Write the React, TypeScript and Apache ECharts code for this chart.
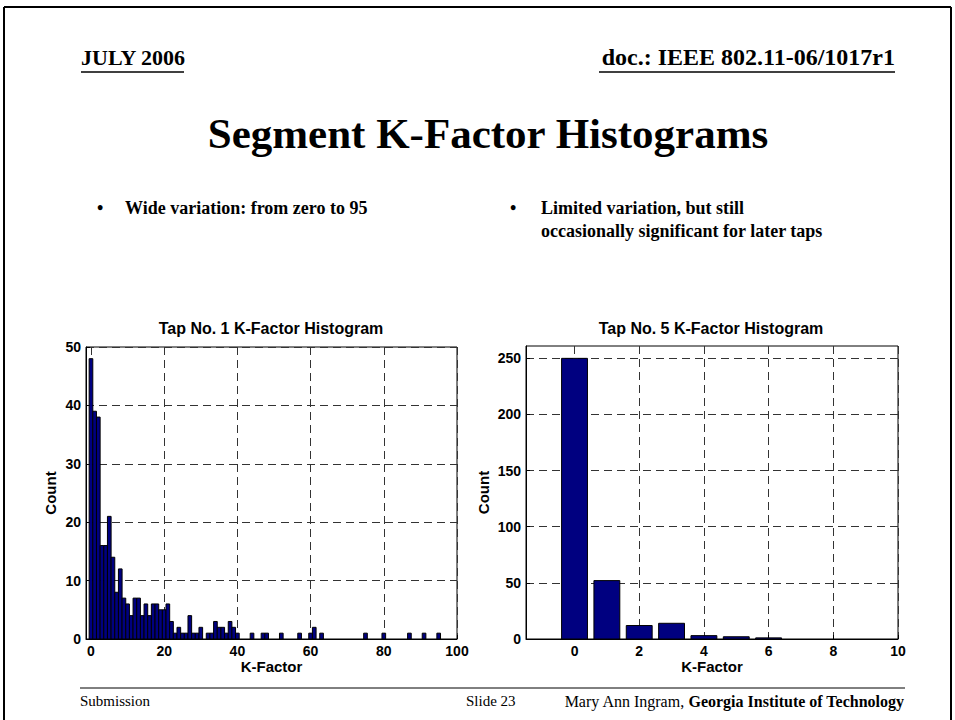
import React, { useEffect, useRef } from 'react';
import * as echarts from 'echarts';

// Tap No. 1 histogram: counts per K-Factor bin (bin k centred on K = k, width 1)
const tap1Counts = [
  48, 39, 38, 16, 16, 21, 14, 8, 12, 7,
  6, 4, 7, 7, 4, 6, 4, 6, 6, 5,
  5, 6, 3, 1, 2, 1, 1, 4, 1, 1,
  2, 0, 1, 1, 3, 2, 2, 1, 3, 2,
  1, 0, 0, 0, 1, 0, 0, 1, 1, 0,
  0, 0, 1, 0, 0, 0, 0, 1, 0, 0,
  1, 2, 0, 1, 0, 0, 0, 0, 0, 0,
  0, 0, 0, 0, 0, 1, 0, 0, 0, 0,
  1, 0, 0, 0, 0, 0, 0, 1, 0, 0,
  0, 1, 0, 0, 0, 1,
];
// Tap No. 5 histogram: counts for K-Factor bins 0..6
const tap5Counts = [250, 52, 12, 14, 3, 2, 1];

const tap1XTicks = [0, 20, 40, 60, 80, 100];
const tap1YTicks = [0, 10, 20, 30, 40, 50];
const tap5XTicks = [0, 2, 4, 6, 8, 10];
const tap5YTicks = [0, 50, 100, 150, 200, 250];

const tap1BinWidth = 1;
const tap5BinWidth = 0.8;

const AXIS_FONT = '"Liberation Sans", Arial, sans-serif';
const SERIF = '"Liberation Serif", "Times New Roman", serif';

function makeAxis(gridIndex: number, min: number, max: number, ticks: number[], name: string, nameGap: number) {
  return {
    type: 'value',
    gridIndex,
    min,
    max,
    name,
    nameLocation: 'middle',
    nameGap,
    nameTextStyle: { color: '#000', fontWeight: 'bold', fontSize: 15, fontFamily: AXIS_FONT },
    axisLine: { show: true, onZero: false, lineStyle: { color: '#000', width: 1 } },
    axisTick: { show: true, inside: true, length: 4, customValues: ticks, lineStyle: { color: '#000' } },
    axisLabel: {
      show: true,
      customValues: ticks,
      color: '#000',
      fontWeight: 'bold',
      fontSize: 14,
      fontFamily: AXIS_FONT,
      margin: 5,
      showMinLabel: true,
      showMaxLabel: true,
    },
    splitLine: { show: true, lineStyle: { color: '#333', width: 1, type: [8, 5] } },
  };
}

function histSeries(counts: number[], width: number, axisIndex: number) {
  return {
    type: 'custom',
    xAxisIndex: axisIndex,
    yAxisIndex: axisIndex,
    data: counts.map((c, i) => [i, c]),
    encode: { x: 0, y: 1 },
    renderItem: (params: any, api: any) => {
      const x = api.value(0);
      const y = api.value(1);
      if (!y) return null;
      const p0 = api.coord([x - width / 2, y]);
      const p1 = api.coord([x + width / 2, 0]);
      return {
        type: 'rect',
        shape: { x: p0[0], y: p0[1], width: p1[0] - p0[0], height: p1[1] - p0[1] },
        style: { fill: '#000080', stroke: '#000', lineWidth: 1 },
      };
    },
  };
}

function txt(text: string, x: number, y: number, font: string, align: string = 'left', extra: any = {}) {
  return {
    type: 'text',
    x,
    y,
    style: { text, font, fill: '#000', align, verticalAlign: 'middle', textAlign: align, textVerticalAlign: 'middle', ...extra },
  };
}

function line(x1: number, y1: number, x2: number, y2: number, w = 1) {
  return { type: 'line', shape: { x1, y1, x2, y2 }, style: { stroke: '#000', lineWidth: w } };
}

export default function App() {
  const ref = useRef<HTMLDivElement>(null);
  useEffect(() => {
    if (!ref.current) return;
    const chart = echarts.init(ref.current, undefined, { renderer: 'svg' });
    chart.setOption({
      animation: false,
      backgroundColor: '#fff',
      grid: [
        { left: 86, top: 347, width: 371, height: 292, show: true, borderColor: '#000', borderWidth: 1, backgroundColor: '#fff' },
        { left: 526, top: 346, width: 372, height: 293, show: true, borderColor: '#000', borderWidth: 1, backgroundColor: '#fff' },
      ],
      xAxis: [
        makeAxis(0, -1.36, 100, tap1XTicks, 'K-Factor', 20),
        makeAxis(1, -1.5, 10, tap5XTicks, 'K-Factor', 20),
      ],
      yAxis: [
        makeAxis(0, 0, 50, tap1YTicks, 'Count', 28),
        makeAxis(1, 0, 261, tap5YTicks, 'Count', 35),
      ],
      series: [histSeries(tap1Counts, tap1BinWidth, 0), histSeries(tap5Counts, tap5BinWidth, 1)],
      graphic: [
        // slide frame
        line(4, 7, 951, 7, 2),
        line(4, 7, 4, 720, 2),
        line(951, 7, 951, 720, 2),
        // header
        txt('JULY 2006', 81, 57, `bold 22px ${SERIF}`, 'left'),
        line(81, 72, 184, 72, 1.5),
        txt('doc.: IEEE 802.11-06/1017r1', 895, 57, `bold 24px ${SERIF}`, 'right'),
        line(599, 72, 895, 72, 1.5),
        // title
        txt('Segment K-Factor Histograms', 488, 133, `bold 43px ${SERIF}`, 'center'),
        // bullets
        txt('•', 97, 208, `bold 18px ${SERIF}`, 'left'),
        txt('Wide variation: from zero to 95', 125, 208, `bold 18px ${SERIF}`, 'left'),
        txt('•', 510, 208, `bold 18px ${SERIF}`, 'left'),
        txt('Limited variation, but still', 541, 208, `bold 18px ${SERIF}`, 'left'),
        txt('occasionally significant for later taps', 541, 231, `bold 18px ${SERIF}`, 'left'),
        // chart titles
        txt('Tap No. 1 K-Factor Histogram', 271, 328, `bold 16px ${AXIS_FONT}`, 'center'),
        txt('Tap No. 5 K-Factor Histogram', 711, 328, `bold 16px ${AXIS_FONT}`, 'center'),
        // footer
        line(80, 688, 905, 688, 1),
        txt('Submission', 80, 701, `15px ${SERIF}`, 'left'),
        txt('Slide 23', 466, 701, `15px ${SERIF}`, 'left'),
        {
          type: 'text',
          x: 904,
          y: 701,
          style: {
            text: '{n|Mary Ann Ingram, }{b|Georgia Institute of Technology}',
            align: 'right',
            verticalAlign: 'middle',
            textAlign: 'right',
            textVerticalAlign: 'middle',
            fill: '#000',
            rich: {
              n: { fill: '#000', fontFamily: SERIF, fontSize: 16 },
              b: { fill: '#000', fontFamily: SERIF, fontSize: 16, fontWeight: 'bold' },
            },
          },
        },
      ],
    });
    return () => chart.dispose();
  }, []);
  return (
    <div
      ref={ref}
      style={{ position: 'absolute', left: 0, top: 0, width: 955, height: 720, background: '#fff' }}
    />
  );
}
